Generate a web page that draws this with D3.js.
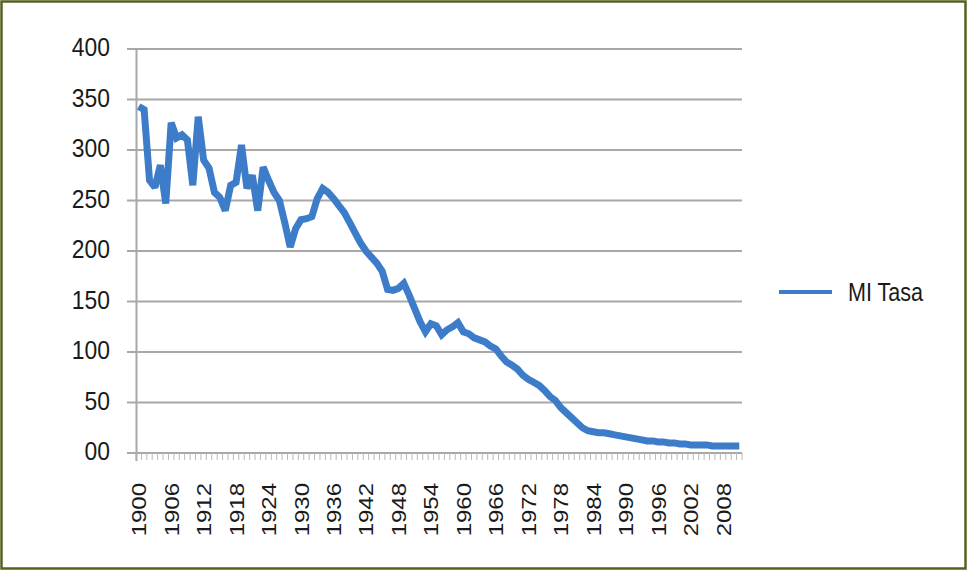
<!DOCTYPE html>
<html>
<head>
<meta charset="utf-8">
<script src="https://cdn.jsdelivr.net/npm/d3@7/dist/d3.min.js"></script>
<style>
  body { margin: 0; background: #fff; }
  svg text { font-family: "Liberation Sans", Arial, sans-serif; fill: #1a1a1a; }
</style>
</head>
<body>
<div id="chart"></div>
<script>
// years on the category axis
var years = d3.range(1900, 2012);

// MI Tasa values
var miTasa = [
    343, 340, 270, 263, 285, 247, 327, 312, 315, 310,   // 1900s
    265, 333, 290, 282, 258, 253, 240, 265, 268, 305,   // 1910s
    262, 275, 240, 283, 270, 258, 250, 228, 204, 222,   // 1920s
    231, 232, 234, 252, 262, 258, 252, 245, 238, 228,   // 1930s
    218, 208, 200, 194, 188, 180, 162, 161, 163, 168,   // 1940s
    156, 143, 130, 120, 128, 126, 117, 122, 125, 129,   // 1950s
    120, 118, 114, 112, 110, 106, 103, 96, 90, 87,      // 1960s
    83, 77, 73, 70, 67, 62, 56, 52, 45, 40,             // 1970s
    35, 30, 25, 22, 21, 20, 20, 19, 18, 17,             // 1980s
    16, 15, 14, 13, 12, 12, 11, 11, 10, 10,             // 1990s
    9, 9, 8, 8, 8, 8, 7, 7, 7, 7,                       // 2000s
    7, 7                                                // 2010s
];

var yTicks = [0, 50, 100, 150, 200, 250, 300, 350, 400];
var yTickLabels = ["00", "50", "100", "150", "200", "250", "300", "350", "400"];
var xLabelYears = d3.range(1900, 2012, 6);
var seriesName = "MI Tasa";

var width = 969, height = 571;
var lineColor = "#3d7cc9";
var gridColor = "#a8a8a8";

var svg = d3.select("#chart").append("svg")
    .attr("width", width)
    .attr("height", height);

// frame
svg.append("rect")
    .attr("x", 1.5)
    .attr("y", 1.5)
    .attr("width", 964)
    .attr("height", 567)
    .attr("fill", "#fff")
    .attr("stroke", "#56611f")
    .attr("stroke-width", 2.5);

// scales
var x = d3.scaleBand()
    .domain(years)
    .range([136, 742])
    .padding(0);

var y = d3.scaleLinear()
    .domain([0, 400])
    .range([453, 49]);

var cx = function(d) { return x(d) + x.bandwidth() / 2; };

// gridlines
svg.selectAll(".grid")
    .data(yTicks)
    .enter()
    .append("line")
    .attr("class", "grid")
    .attr("x1", 127)
    .attr("x2", 742)
    .attr("y1", function(d) { return y(d); })
    .attr("y2", function(d) { return y(d); })
    .attr("stroke", gridColor)
    .attr("stroke-width", 2);

// y axis line
svg.append("line")
    .attr("x1", 136.5)
    .attr("x2", 136.5)
    .attr("y1", y(400))
    .attr("y2", y(0) + 8)
    .attr("stroke", gridColor)
    .attr("stroke-width", 2);

// category tick marks
svg.selectAll(".xtick")
    .data(years.concat([2012]))
    .enter()
    .append("line")
    .attr("class", "xtick")
    .attr("x1", function(d) { return d === 2012 ? x.range()[1] : x(d); })
    .attr("x2", function(d) { return d === 2012 ? x.range()[1] : x(d); })
    .attr("y1", y(0))
    .attr("y2", y(0) + 7)
    .attr("stroke", "#b8b8b8")
    .attr("stroke-width", 1);

// y tick labels (squeezed a bit, the original font is condensed)
svg.selectAll(".ylabel")
    .data(yTicks)
    .enter()
    .append("text")
    .attr("class", "ylabel")
    .attr("transform", function(d) {
        return "translate(110," + (y(d) - 2) + ") scale(0.88,1)";
    })
    .attr("dominant-baseline", "central")
    .style("text-anchor", "end")
    .style("font-size", "26px")
    .text(function(d, i) { return yTickLabels[i]; });

// x tick labels, rotated
svg.selectAll(".xlabel")
    .data(xLabelYears)
    .enter()
    .append("text")
    .attr("class", "xlabel")
    .attr("transform", function(d) {
        return "translate(" + (cx(d) + 7.5) + ",483) rotate(-90) scale(1,0.88)";
    })
    .style("text-anchor", "end")
    .style("font-size", "24px")
    .text(function(d) { return d; });

// the series line
var line = d3.line()
    .x(function(d, i) { return cx(years[i]); })
    .y(function(d) { return y(d); });

svg.append("path")
    .datum(miTasa)
    .attr("d", line)
    .attr("fill", "none")
    .attr("stroke", lineColor)
    .attr("stroke-width", 7)
    .attr("stroke-linejoin", "miter")
    .attr("stroke-miterlimit", 2);

// legend
svg.append("line")
    .attr("x1", 779)
    .attr("x2", 832)
    .attr("y1", 292)
    .attr("y2", 292)
    .attr("stroke", lineColor)
    .attr("stroke-width", 4);

svg.append("text")
    .attr("transform", "translate(848,292) scale(0.83,1)")
    .attr("dominant-baseline", "central")
    .style("font-size", "26px")
    .text(seriesName);
</script>
</body>
</html>
